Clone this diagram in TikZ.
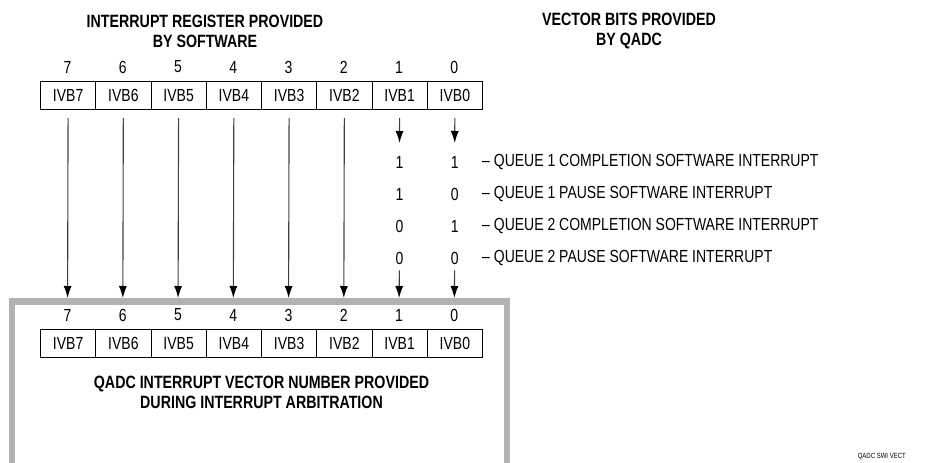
\documentclass[tikz,border=0pt]{standalone}
\usepackage{fontspec}
\setmainfont{Liberation Sans}[FakeStretch=0.8]
\usetikzlibrary{arrows.meta}
\begin{document}
\begin{tikzpicture}[x=1pt,y=-1pt,
  txt/.style={font=\fontsize{17.5}{20}\selectfont, inner sep=0pt},
  cell/.style={txt, draw, line width=1pt, minimum width=55.25pt, minimum height=28pt, anchor=north west},
  ttl/.style={font=\bfseries\fontsize{17.8}{20}\selectfont, align=center, inner sep=0pt},
  lbl/.style={txt, anchor=west},
  arr/.style={draw=black!75, line width=1.1pt, -{Latex[length=12pt,width=8pt,color=black]}},
  frame/.style={draw=black!30, line width=6.5pt}
]
\useasboundingbox (0,0) rectangle (927,463);
% gray frame (open at the bottom)
\draw[frame] (12,470) -- (12,301.25) -- (507,301.25) -- (507,470);
% titles
\node[ttl] (ttlA) at (205,31) {INTERRUPT REGISTER PROVIDED\\BY SOFTWARE};
\node[ttl] (ttlB) at (629,31) {VECTOR BITS PROVIDED\\BY QADC};
\node[ttl] (ttlC) at (261.5,392.5) {QADC INTERRUPT VECTOR NUMBER PROVIDED\\DURING INTERRUPT ARBITRATION};
% registers
\foreach \b [count=\k from 0] in {7,6,5,4,3,2,1,0} {
  \node[cell] (u\b) at ({40+\k*55.25},81) {IVB\b};
  \node[txt] (un\b) at ({67.6+\k*55.25},67) {\b};
  \node[cell] (l\b) at ({40+\k*55.25},329) {IVB\b};
  \node[txt] (ln\b) at ({67.6+\k*55.25},315) {\b};
  \coordinate (t\b) at ({67.6+\k*55.25},298);
}
% long arrows
\foreach \b in {7,6,5,4,3,2} {
  \draw[arr, shorten <=8pt] (u\b) -- (t\b);
}
% vector bits table
\coordinate (a1) at (399.5,143);
\coordinate (a0) at (454.75,143);
\draw[arr, shorten <=8pt] (u1) -- (a1);
\draw[arr, shorten <=8pt] (u0) -- (a0);
\node[txt] (d11) at (399.5,162) {1};
\node[txt] (d10) at (454.75,162) {1};
\node[txt] (d21) at (399.5,194) {1};
\node[txt] (d20) at (454.75,194) {0};
\node[txt] (d31) at (399.5,226) {0};
\node[txt] (d30) at (454.75,226) {1};
\node[txt] (d41) at (399.5,258) {0};
\node[txt] (d40) at (454.75,258) {0};
\node[lbl] (q1) at (482,162) {– QUEUE 1 COMPLETION SOFTWARE INTERRUPT};
\node[lbl] (q2) at (482,194) {– QUEUE 1 PAUSE SOFTWARE INTERRUPT};
\node[lbl] (q3) at (482,226) {– QUEUE 2 COMPLETION SOFTWARE INTERRUPT};
\node[lbl] (q4) at (482,258) {– QUEUE 2 PAUSE SOFTWARE INTERRUPT};
\draw[arr, shorten <=6pt] (d41) -- (t1);
\draw[arr, shorten <=6pt] (d40) -- (t0);
% figure tag
\node[font=\fontsize{7.5}{9}\selectfont, inner sep=0pt, anchor=east] (tag) at (906,457) {QADC SWI VECT};
\end{tikzpicture}
\end{document}
